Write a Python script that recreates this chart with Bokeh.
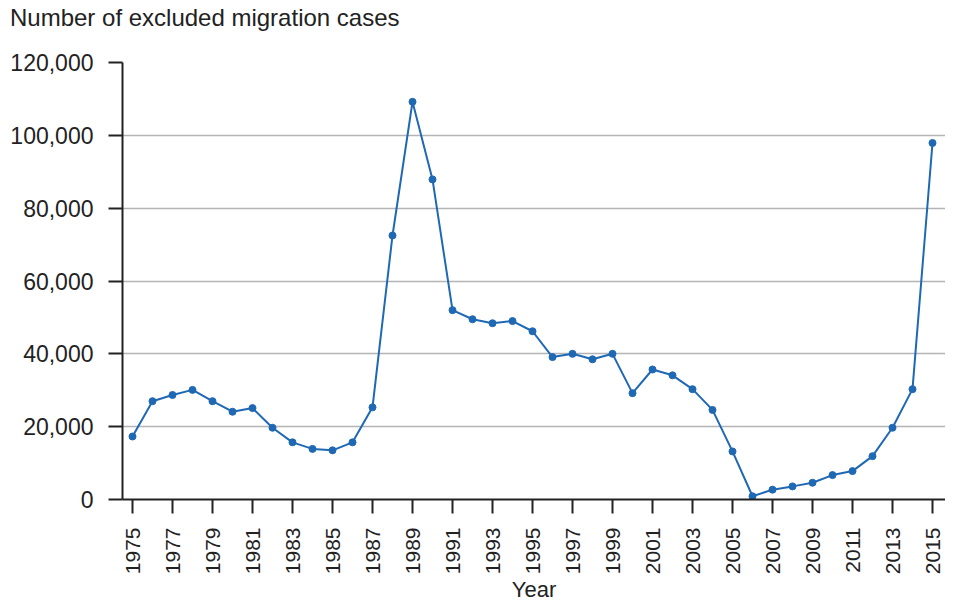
from bokeh.plotting import figure
from bokeh.models import FixedTicker, NumeralTickFormatter, Range1d, Div
from bokeh.layouts import column
from bokeh.embed import file_html
from bokeh.resources import INLINE
import math

years = list(range(1975, 2016))
cases = [17300, 27000, 28700, 30100, 27000, 24100, 25100, 19700, 15700, 13900,
         13500, 15700, 25300, 72500, 109200, 87900, 52000, 49500, 48400, 49000,
         46200, 39100, 40000, 38500, 40000, 29200, 35700, 34100, 30300, 24600,
         13200, 900, 2700, 3600, 4600, 6700, 7800, 11900, 19700, 30300, 97900]
x_ticks = list(range(1975, 2016, 2))
y_ticks = [0, 20000, 40000, 60000, 80000, 100000, 120000]
title_text = "Number of excluded migration cases"

FONT = "Liberation Sans"
TXT = "#222222"
BLUE = "#1f68b4"

header = Div(text=title_text, width=935, height=36, margin=(0, 0, 0, 10),
             styles={"font-family": FONT, "font-size": "24px", "color": TXT,
                     "line-height": "36px", "white-space": "nowrap"})

p = figure(width=945, height=571, output_backend="svg", toolbar_location=None,
           x_range=Range1d(1974.5, 2015.65), y_range=Range1d(0, 120000),
           min_border_left=122, min_border_right=0, min_border_top=26,
           min_border_bottom=108)
p.outline_line_color = None

p.line(years, cases, line_color=BLUE, line_width=2)
p.scatter(years, cases, size=7, fill_color=BLUE, line_color=BLUE)

p.xgrid.grid_line_color = None
p.ygrid.grid_line_color = "#b4b4b4"
p.ygrid.grid_line_width = 1.5
p.ygrid.ticker = FixedTicker(ticks=y_ticks)

p.xaxis.ticker = FixedTicker(ticks=x_ticks)
p.xaxis.major_label_orientation = math.pi / 2
p.xaxis.axis_label = "Year"
p.yaxis.ticker = FixedTicker(ticks=y_ticks)
p.yaxis.formatter = NumeralTickFormatter(format="0,0")

for ax in (p.xaxis[0], p.yaxis[0]):
    ax.axis_line_color = "#222222"
    ax.axis_line_width = 2
    ax.major_tick_line_color = "#222222"
    ax.major_tick_line_width = 2
    ax.major_tick_out = 14
    ax.major_tick_in = 0
    ax.minor_tick_line_color = None
    ax.major_label_text_font = FONT
    ax.major_label_text_color = TXT
    ax.major_label_standoff = 15
    ax.axis_label_text_font = FONT
    ax.axis_label_text_font_size = "22px"
    ax.axis_label_text_font_style = "normal"
    ax.axis_label_text_color = TXT
p.yaxis.major_label_text_font_size = "23px"
p.xaxis.major_label_text_font_size = "21px"
p.xaxis.major_label_standoff = 14
p.xaxis.axis_label_standoff = 0

layout = column(header, p, spacing=0)
open("out.html", "w").write(file_html(layout, INLINE))
